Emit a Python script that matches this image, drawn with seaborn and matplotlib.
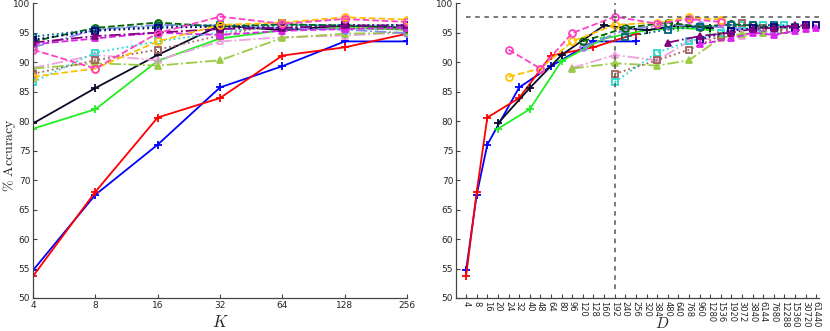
import numpy as np
import pandas as pd
import matplotlib
matplotlib.use("Agg")
import matplotlib.pyplot as plt
import seaborn as sns

sns.set_theme(style="white")
plt.rcParams['font.family'] = ['DejaVu Sans']
plt.rcParams['mathtext.fontset'] = 'cm'

# codebook sizes K and the D values on the right axis (categorical positions)
K = [4, 8, 16, 32, 64, 128, 256]
D_labels = [4, 8, 16, 20, 24, 32, 40, 48, 64, 80, 96, 120, 128, 160, 192, 240, 256,
            320, 384, 480, 640, 768, 960, 1280, 1536, 1920, 3072, 3840, 6144, 7680,
            12288, 15360, 30720, 61440]

# accuracy per series (one value per K) and the per-word dimension d (D = K * d)
acc_blue = [54.7, 67.5, 76.0, 85.7, 89.3, 93.5, 93.5]
acc_red = [53.7, 68.0, 80.6, 83.9, 91.1, 92.5, 94.8]
acc_green = [78.7, 82.0, 90.2, 94.0, 95.4, 95.8, 95.5]
acc_black = [79.6, 85.6, 91.2, 96.2, 95.4, 96.2, 95.8]
acc_gold = [87.5, 88.9, 93.5, 96.3, 96.7, 97.6, 97.2]
acc_pink = [92.1, 88.9, 94.9, 97.7, 96.5, 97.3, 96.8]
acc_plum = [89.0, 91.2, 90.3, 93.5, 94.2, 94.5, 95.0]
acc_ygreen = [88.9, 89.8, 89.4, 90.3, 94.1, 94.8, 95.0]
acc_cyan = [86.6, 91.6, 93.5, 95.0, 96.3, 96.2, 96.3]
acc_brown = [88.0, 90.3, 92.1, 94.5, 96.6, 95.8, 95.5]
acc_lav = [92.5, 95.5, 96.3, 96.2, 95.7, 95.5, 94.9]
acc_dgreen = [93.5, 95.8, 96.7, 96.0, 96.4, 96.2, 95.8]
acc_purple = [93.3, 94.4, 95.0, 95.6, 95.8, 96.2, 96.2]
acc_magenta = [93.0, 94.0, 95.0, 94.6, 95.3, 95.6, 95.8]
acc_teal = [94.3, 95.5, 96.0, 96.3, 96.2, 96.3, 96.0]
acc_navy = [93.8, 95.3, 95.8, 96.0, 95.8, 96.2, 96.3]

best_acc = 97.7
best_D = 192

# (values, d, color, linestyle, marker, filled)
series = [
    (acc_blue, 1, '#0000ff', '-', '+', True),
    (acc_red, 1, '#ff0000', '-', '+', True),
    (acc_green, 5, '#22ee22', '-', '+', True),
    (acc_black, 5, '#0a0a2a', '-', '+', True),
    (acc_plum, 24, '#f0a0dc', '-.', '^', False),
    (acc_ygreen, 24, '#99cc44', '-.', '^', True),
    (acc_cyan, 48, '#22ddcc', ':', 's', False),
    (acc_brown, 48, '#a0605a', ':', 's', False),
    (acc_lav, 30, '#8888ee', '-.', 'o', False),
    (acc_dgreen, 30, '#006600', '--', 'o', False),
    (acc_teal, 60, '#006680', ':', 's', False),
    (acc_navy, 240, '#000080', ':', 's', False),
    (acc_magenta, 240, '#dd22ee', '--', '^', True),
    (acc_purple, 120, '#800080', '-.', '^', True),
    (acc_gold, 6, '#ffc000', '--', 'o', False),
    (acc_pink, 6, '#ff40c0', '--', 'o', False),
]

fig = plt.figure(figsize=(8.3, 3.31), dpi=100)
ax1 = fig.add_axes([0.0398, 0.0997, 0.4506, 0.891])
ax2 = fig.add_axes([0.5494, 0.0997, 0.4373, 0.891])

for vals, d, col, ls, mk, filled in series:
    kw = dict(color=col, linestyle=ls, marker=mk, markersize=5 if mk != '+' else 6,
              markeredgewidth=1.3, linewidth=1.3,
              markerfacecolor=col if filled else 'none', markeredgecolor=col)
    sns.lineplot(x=K, y=vals, ax=ax1, **kw)
    xpos = [D_labels.index(k * d) for k in K]
    sns.lineplot(x=xpos, y=vals, ax=ax2, **kw)

# left panel
ax1.set_xscale('log', base=2)
ax1.set_xlim(4, 256)
ax1.set_xticks(K)
ax1.set_xticklabels([str(k) for k in K])
ax1.minorticks_off()

# right panel
ax2.set_xlim(-0.95, 33.25)
ax2.set_xticks(range(len(D_labels)))
ax2.set_xticklabels([str(v) for v in D_labels], rotation=-90)
bi = D_labels.index(best_D)
ax2.plot([0, 33.25], [best_acc, best_acc], color='#555555', linestyle=(0, (3, 3)), linewidth=1.1)
ax2.plot([bi, bi], [51.5, 100], color='#555555', linestyle=(0, (3, 3)), linewidth=1.1)

for ax in (ax1, ax2):
    ax.set_ylim(50, 100)
    ax.set_yticks(range(50, 101, 5))
    for s in ('top', 'right'):
        ax.spines[s].set_visible(False)
    for s in ('left', 'bottom'):
        ax.spines[s].set_color('#444444')
        ax.spines[s].set_linewidth(0.9)
    ax.tick_params(direction='in', length=3, width=0.8, color='#444444',
                   labelsize=6.5, pad=2, left=True, bottom=True)
    ax.grid(False)
    ax.set_facecolor('white')

ax2.tick_params(axis='x', labelsize=6, pad=2)

fig.text(0.0115, 0.53, r'$\%\ \mathrm{Accuracy}$', fontsize=10, rotation=90,
         ha='center', va='center')
ax1.set_xlabel(r'$K$', fontsize=12)
ax1.xaxis.set_label_coords(0.5, -0.05)
ax2.set_xlabel(r'$D$', fontsize=11)
ax2.xaxis.set_label_coords(0.567, -0.062)

fig.savefig('out.png', dpi=100, facecolor='white')
